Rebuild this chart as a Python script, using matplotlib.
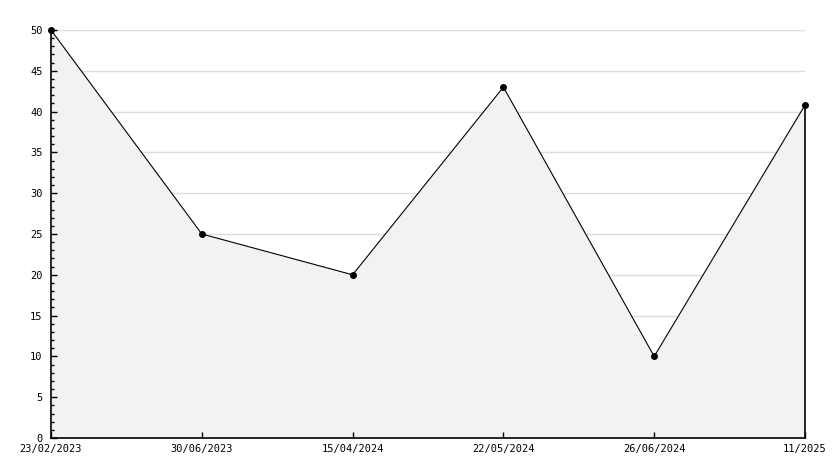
import numpy as np
import matplotlib
matplotlib.use('Agg')
import matplotlib.pyplot as plt
from matplotlib.ticker import MultipleLocator

# data
dates = ['23/02/2023', '30/06/2023', '15/04/2024', '22/05/2024', '26/06/2024', '11/2025']
values = [50, 25, 20, 43, 10, 40.8]
grid_levels = [5, 10, 15, 20, 25, 30, 35, 40, 45, 50]

fig = plt.figure(figsize=(8.34, 4.68), dpi=100)
ax = fig.add_axes([51 / 834, 30 / 468, (805 - 51) / 834, (438 - 30) / 468])

x = np.arange(len(dates))
# grid behind the fill, ticks above it
for g in grid_levels:
    ax.axhline(g, color='#dddddd', linewidth=1, zorder=0.5)
ax.fill_between(x, 0, values, color='#f2f2f2', linewidth=0, zorder=1)
ax.vlines(x[-1], 0, values[-1], color='black', linewidth=1.2, zorder=3,
          clip_on=False)
ax.plot(x, values, color='black', linewidth=0.8, marker='o', markersize=4,
        zorder=4, clip_on=False)

ax.set_xlim(x[0], x[-1])
ax.set_ylim(0, 50)
ax.set_xticks(x)
ax.set_xticklabels(dates)
ax.yaxis.set_major_locator(MultipleLocator(5))
ax.yaxis.set_minor_locator(MultipleLocator(1))
ax.set_axisbelow(False)

for s in ['top', 'right']:
    ax.spines[s].set_visible(False)
ax.spines['left'].set_linewidth(1.2)
ax.spines['bottom'].set_linewidth(1.2)

ax.tick_params(axis='y', which='major', direction='in', length=4.5, width=1,
               labelsize=7.5, pad=6)
ax.tick_params(axis='y', which='minor', direction='in', length=2.5, width=1)
ax.tick_params(axis='x', which='major', direction='in', length=4, width=1,
               labelsize=7.5, pad=4)
for lbl in ax.get_xticklabels() + ax.get_yticklabels():
    lbl.set_family('DejaVu Sans Mono')

fig.savefig('out.png', dpi=100)
